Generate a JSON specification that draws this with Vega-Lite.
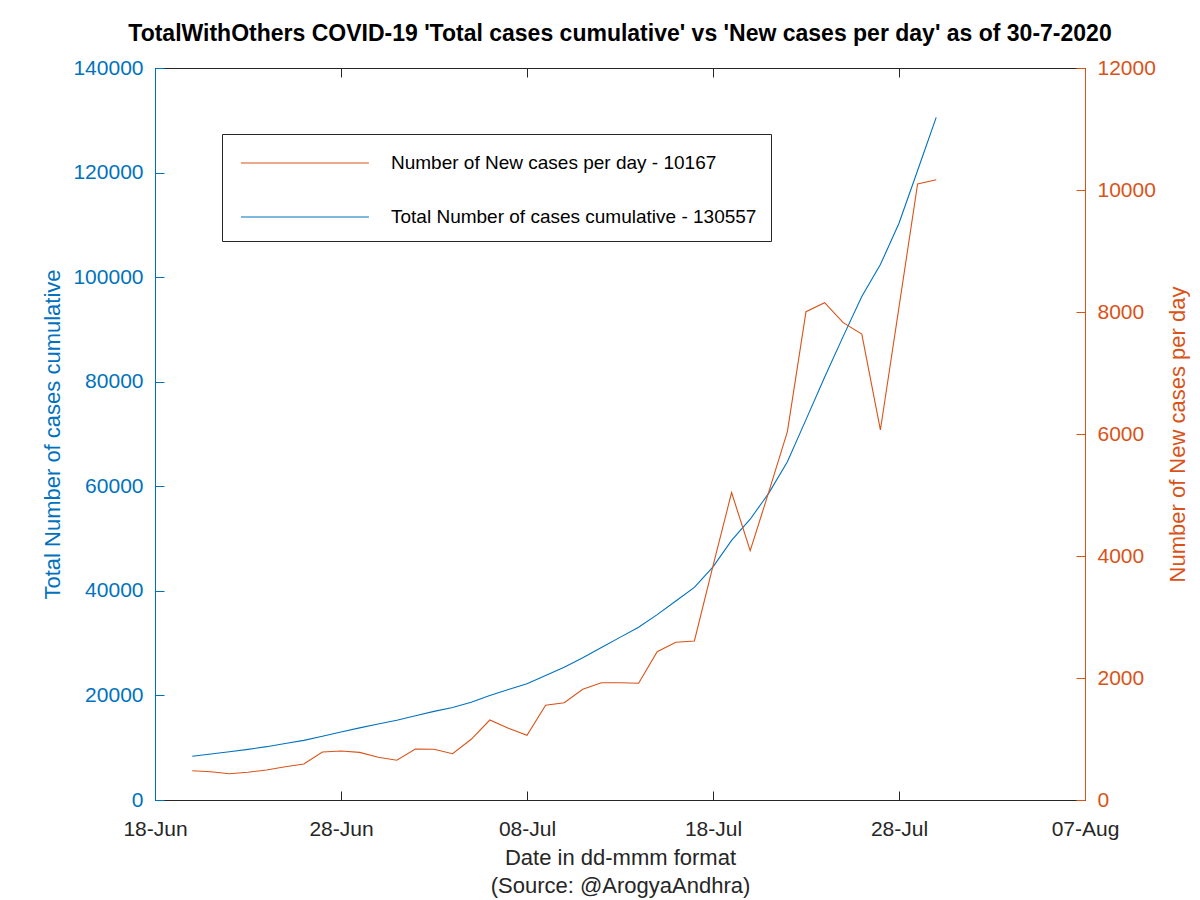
{
  "$schema": "https://vega.github.io/schema/vega-lite/v6.json",
  "width": 930,
  "height": 732,
  "autosize": {"type": "none"},
  "padding": {"left": 155, "top": 68, "right": 115, "bottom": 100},
  "background": "white",
  "config": {
    "font": "Liberation Sans",
    "view": {"stroke": "#262626", "strokeWidth": 1},
    "axis": {"grid": false}
  },
  "title": {
    "text": "TotalWithOthers COVID-19 'Total cases cumulative' vs 'New cases per day' as of 30-7-2020",
    "fontSize": 23,
    "fontWeight": "bold",
    "color": "#000000",
    "font": "Liberation Sans",
    "anchor": "middle",
    "offset": 11
  },
  "data": {
    "values": [
      {"date": "2020-06-20", "total": 8358, "new": 480},
      {"date": "2020-06-21", "total": 8800, "new": 464},
      {"date": "2020-06-22", "total": 9240, "new": 431},
      {"date": "2020-06-23", "total": 9690, "new": 454},
      {"date": "2020-06-24", "total": 10200, "new": 492},
      {"date": "2020-06-25", "total": 10800, "new": 546},
      {"date": "2020-06-26", "total": 11400, "new": 590},
      {"date": "2020-06-27", "total": 12200, "new": 787},
      {"date": "2020-06-28", "total": 13000, "new": 803},
      {"date": "2020-06-29", "total": 13800, "new": 781},
      {"date": "2020-06-30", "total": 14550, "new": 700},
      {"date": "2020-07-01", "total": 15250, "new": 651},
      {"date": "2020-07-02", "total": 16100, "new": 836},
      {"date": "2020-07-03", "total": 16950, "new": 831},
      {"date": "2020-07-04", "total": 17700, "new": 759},
      {"date": "2020-07-05", "total": 18700, "new": 995},
      {"date": "2020-07-06", "total": 20000, "new": 1311},
      {"date": "2020-07-07", "total": 21150, "new": 1175},
      {"date": "2020-07-08", "total": 22250, "new": 1060},
      {"date": "2020-07-09", "total": 23800, "new": 1555},
      {"date": "2020-07-10", "total": 25400, "new": 1595},
      {"date": "2020-07-11", "total": 27200, "new": 1814},
      {"date": "2020-07-12", "total": 29150, "new": 1923},
      {"date": "2020-07-13", "total": 31100, "new": 1923},
      {"date": "2020-07-14", "total": 33050, "new": 1913},
      {"date": "2020-07-15", "total": 35450, "new": 2432},
      {"date": "2020-07-16", "total": 38050, "new": 2585},
      {"date": "2020-07-17", "total": 40650, "new": 2607},
      {"date": "2020-07-18", "total": 44600, "new": 3840},
      {"date": "2020-07-19", "total": 49650, "new": 5040},
      {"date": "2020-07-20", "total": 53700, "new": 4087},
      {"date": "2020-07-21", "total": 58700, "new": 5050},
      {"date": "2020-07-22", "total": 64700, "new": 6038},
      {"date": "2020-07-23", "total": 72750, "new": 8005},
      {"date": "2020-07-24", "total": 80850, "new": 8153},
      {"date": "2020-07-25", "total": 88670, "new": 7825},
      {"date": "2020-07-26", "total": 96300, "new": 7639},
      {"date": "2020-07-27", "total": 102400, "new": 6066},
      {"date": "2020-07-28", "total": 110300, "new": 8080},
      {"date": "2020-07-29", "total": 120390, "new": 10098},
      {"date": "2020-07-30", "total": 130557, "new": 10167}
    ]
  },
  "layer": [
    {
      "mark": {"type": "line", "strokeWidth": 1.1},
      "encoding": {
        "x": {
          "field": "date",
          "type": "temporal",
          "scale": {
            "type": "utc",
            "domain": [
              {"year": 2020, "month": 6, "date": 18, "utc": true},
              {"year": 2020, "month": 8, "date": 7, "utc": true}
            ],
            "nice": false
          },
          "axis": {
            "orient": "bottom",
            "values": [
              {"year": 2020, "month": 6, "date": 18, "utc": true},
              {"year": 2020, "month": 6, "date": 28, "utc": true},
              {"year": 2020, "month": 7, "date": 8, "utc": true},
              {"year": 2020, "month": 7, "date": 18, "utc": true},
              {"year": 2020, "month": 7, "date": 28, "utc": true},
              {"year": 2020, "month": 8, "date": 7, "utc": true}
            ],
            "format": "%d-%b",
            "labelFontSize": 21,
            "labelColor": "#262626",
            "labelFont": "Liberation Sans",
            "labelPadding": 27,
            "labelFlush": false,
            "labelOverlap": false,
            "domainColor": "#262626",
            "tickColor": "#262626",
            "tickSize": -9,
            "title": ["Date in dd-mmm format", "(Source: @ArogyaAndhra)"],
            "titleFontSize": 22,
            "titleFontWeight": "normal",
            "titleColor": "#262626",
            "titleFont": "Liberation Sans",
            "titleLineHeight": 28,
            "titlePadding": 8
          }
        },
        "y": {
          "field": "total",
          "type": "quantitative",
          "scale": {"domain": [0, 140000], "nice": false},
          "axis": {
            "orient": "left",
            "values": [0, 20000, 40000, 60000, 80000, 100000, 120000, 140000],
            "format": "d",
            "labelFontSize": 21,
            "labelColor": "#0072BD",
            "labelFont": "Liberation Sans",
            "labelPadding": 21,
            "domainColor": "#0072BD",
            "tickColor": "#0072BD",
            "tickSize": -9,
            "title": "Total Number of cases cumulative",
            "titleFontSize": 22,
            "titleFontWeight": "normal",
            "titleColor": "#0072BD",
            "titleFont": "Liberation Sans",
            "titlePadding": 8
          }
        },
        "color": {
          "datum": "Total Number of cases cumulative - 130557",
          "scale": {
            "domain": ["Number of New cases per day - 10167", "Total Number of cases cumulative - 130557"],
            "range": ["#D95319", "#0072BD"]
          },
          "legend": {
            "orient": "none",
            "legendX": 67,
            "legendY": 66,
            "title": null,
            "symbolType": "M-1,0H8.14",
            "symbolSize": 784,
            "symbolStrokeWidth": 1.1,
            "symbolFillColor": "transparent",
            "symbolOffset": 4,
            "labelFontSize": 19,
            "labelFont": "Liberation Sans",
            "labelColor": "#000000",
            "labelOffset": 121,
            "labelLimit": 700,
            "padding": 14,
            "rowPadding": 29,
            "strokeColor": "#262626",
            "fillColor": "white"
          }
        }
      }
    },
    {
      "mark": {"type": "line", "strokeWidth": 1.1},
      "encoding": {
        "x": {
          "field": "date",
          "type": "temporal",
          "axis": {
            "orient": "top",
            "values": [
              {"year": 2020, "month": 6, "date": 18, "utc": true},
              {"year": 2020, "month": 6, "date": 28, "utc": true},
              {"year": 2020, "month": 7, "date": 8, "utc": true},
              {"year": 2020, "month": 7, "date": 18, "utc": true},
              {"year": 2020, "month": 7, "date": 28, "utc": true},
              {"year": 2020, "month": 8, "date": 7, "utc": true}
            ],
            "labels": false,
            "title": null,
            "domainColor": "#262626",
            "tickColor": "#262626",
            "tickSize": -9
          }
        },
        "y": {
          "field": "new",
          "type": "quantitative",
          "scale": {"domain": [0, 12000], "nice": false},
          "axis": {
            "orient": "right",
            "values": [0, 2000, 4000, 6000, 8000, 10000, 12000],
            "format": "d",
            "labelFontSize": 21,
            "labelColor": "#D95319",
            "labelFont": "Liberation Sans",
            "labelPadding": 21,
            "domainColor": "#D95319",
            "tickColor": "#D95319",
            "tickSize": -9,
            "title": "Number of New cases per day",
            "titleAngle": 270,
            "titleBaseline": "top",
            "titleFontSize": 22,
            "titleFontWeight": "normal",
            "titleColor": "#D95319",
            "titleFont": "Liberation Sans",
            "titlePadding": 12
          }
        },
        "color": {"datum": "Number of New cases per day - 10167"}
      }
    }
  ],
  "resolve": {"scale": {"y": "independent"}, "axis": {"x": "independent"}}
}
